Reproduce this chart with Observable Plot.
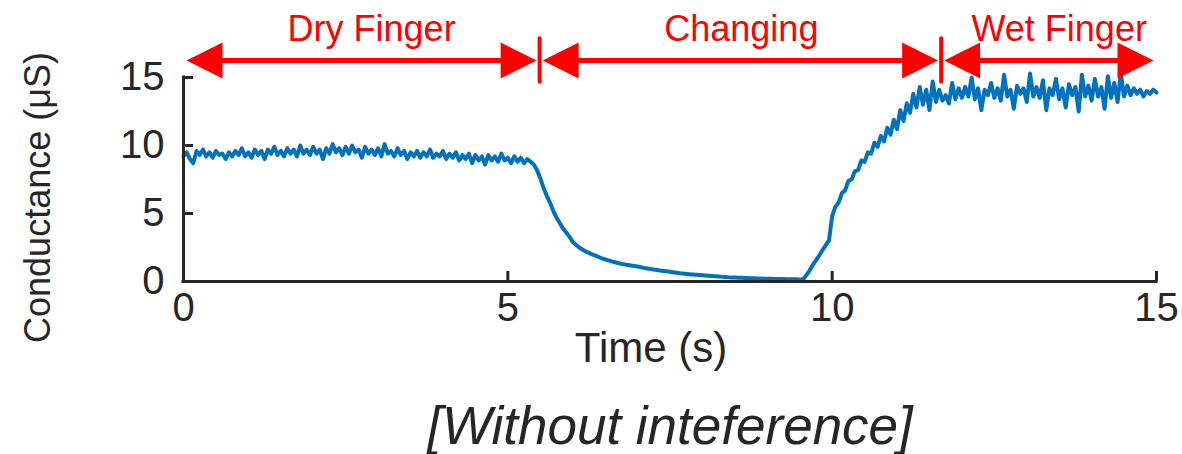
<!DOCTYPE html>
<html>
<head>
<meta charset="utf-8">
<script src="https://cdn.jsdelivr.net/npm/d3@7"></script>
<script src="https://cdn.jsdelivr.net/npm/@observablehq/plot@0.6"></script>
<style>
  html, body { margin: 0; padding: 0; background: #fff; }
</style>
</head>
<body>
<div id="chart"></div>
<script>
// ---------------- data ----------------
const sampleStep = 0.05; // seconds between samples

// 0.00 s .. 5.40 s
const dryValues = [
  9.2, 9.5, 9.0, 8.7, 9.6, 9.3, 9.7, 9.2, 9.5, 9.1, 9.6, 9.3, 9.4, 9.0, 9.5, 9.2, 9.6, 9.3, 9.8, 9.2,
  9.5, 9.1, 9.7, 9.3, 9.6, 9.0, 9.7, 9.4, 9.9, 9.3, 9.6, 9.2, 9.8, 9.4, 9.7, 9.2, 10.0, 9.4, 9.7, 9.3,
  9.9, 9.4, 9.7, 9.0, 9.8, 9.4, 10.1, 9.5, 9.8, 9.3, 9.9, 9.4, 10.0, 9.5, 9.7, 9.1, 9.9, 9.4, 9.7, 9.3,
  9.8, 9.2, 10.1, 9.4, 9.6, 9.2, 9.8, 9.3, 9.6, 9.0, 9.5, 9.2, 9.6, 9.1, 9.5, 9.2, 9.7, 9.1, 9.4, 9.2,
  9.6, 9.0, 9.4, 9.1, 9.5, 8.9, 9.3, 9.0, 9.4, 8.7, 9.3, 8.9, 9.2, 8.6, 9.3, 8.9, 9.2, 8.8, 9.4, 8.9,
  9.1, 8.7, 9.2, 8.8, 9.1, 8.7, 9.0, 8.8, 8.6
];

// 5.45 s .. 9.95 s
const changingValues = [
  8.2, 7.6, 6.9, 6.3, 5.8, 5.2, 4.7, 4.3, 3.9, 3.6, 3.3,
  2.9, 2.7, 2.5, 2.35, 2.2, 2.1, 2.0, 1.9, 1.8, 1.7, 1.62, 1.55, 1.48, 1.42, 1.36, 1.3, 1.26, 1.22, 1.18, 1.14,
  1.1, 1.05, 1.0, 0.96, 0.92, 0.88, 0.85, 0.81, 0.78, 0.75, 0.72, 0.68, 0.64, 0.6, 0.58, 0.56, 0.54, 0.52, 0.5, 0.48,
  0.46, 0.44, 0.42, 0.4, 0.38, 0.36, 0.34, 0.33, 0.31, 0.3, 0.29, 0.28, 0.27, 0.26, 0.25, 0.24, 0.23, 0.22, 0.22, 0.21,
  0.2, 0.2, 0.19, 0.19, 0.18, 0.18, 0.17, 0.17, 0.16, 0.16, 0.15, 0.15, 0.45, 0.8, 1.2, 1.55, 1.9, 2.3, 2.65, 3.0
];

// 10.00 s .. 15.00 s
const wetValues = [
  4.8, 5.5, 5.8, 6.5, 6.7, 7.4, 7.5, 8.1, 8.2, 8.9, 8.8, 9.5, 9.4, 10.2, 9.9, 10.7, 10.3, 11.3, 10.8, 11.9,
  11.2, 12.6, 11.8, 13.1, 12.4, 13.8, 12.8, 14.3, 13.0, 14.1, 12.6, 14.7, 13.2, 14.1, 13.3, 13.7, 13.1, 14.6, 13.4, 14.2,
  13.5, 14.3, 13.6, 15.0, 13.4, 14.2, 12.6, 14.1, 13.7, 14.6, 13.5, 14.2, 13.3, 15.2, 13.6, 14.1, 12.7, 14.4, 13.8, 14.2,
  13.2, 15.3, 13.6, 14.3, 13.5, 14.8, 12.6, 14.2, 13.7, 14.9, 13.4, 14.2, 12.8, 14.5, 13.7, 14.3, 12.5, 15.2, 13.6, 14.4,
  13.3, 14.9, 13.6, 14.3, 12.7, 15.1, 13.5, 14.6, 13.2, 15.3, 13.6, 14.4, 13.7, 14.2, 13.8, 14.1, 13.6, 14.0, 13.8, 14.1,
  13.9
];

const xTicks = [0, 5, 10, 15];
const yTicks = [0, 5, 10, 15];
const phaseNames = ["Dry Finger", "Changing", "Wet Finger"];
const phaseBounds = [0, 5.49, 11.68, 15];
const phaseLabelX = [2.9, 8.6, 13.5];
const arrowLevel = 16.25;
const xLabel = "Time (s)";
const yLabel = "Conductance (μS)";
const caption = "[Without inteference]";

// ---------------- build tables ----------------
const allValues = [...dryValues, ...changingValues, ...wetValues];
const series = allValues.map((v, i) => ({t: +(i * sampleStep).toFixed(2), v}));
const phases = phaseNames.map((name, i) => ({
  name, start: phaseBounds[i], end: phaseBounds[i + 1], labelX: phaseLabelX[i]
}));
const separators = phaseBounds.slice(1, -1);

// ---------------- layout / style ----------------
const W = 1182, H = 454;
const mL = 183, mR = 26, mT = 77, mB = 173;
const innerW = W - mL - mR, innerH = H - mT - mB;
const ink = "#262626", red = "#FF0000", blue = "#0072BD";
const font = "'Liberation Sans', Arial, Helvetica, sans-serif";

const headL = 36, headW = 18;
const leftHead = {draw(c) { c.moveTo(0, 0); c.lineTo(headL, -headW); c.lineTo(headL, headW); c.closePath(); }};
const rightHead = {draw(c) { c.moveTo(0, 0); c.lineTo(-headL, -headW); c.lineTo(-headL, headW); c.closePath(); }};

const chart = Plot.plot({
  width: W, height: H,
  marginLeft: mL, marginRight: mR, marginTop: mT, marginBottom: mB,
  x: {domain: [0, 15]},
  y: {domain: [0, 15]},
  style: {fontFamily: font, color: ink, background: "white", overflow: "visible"},
  marks: [
    Plot.axisX({ticks: xTicks, tickSize: 0, tickPadding: 11, fontSize: 40, label: null}),
    Plot.axisY({ticks: yTicks, tickSize: 0, tickPadding: 19, fontSize: 40, label: null}),
    Plot.line(series, {x: "t", y: "v", stroke: blue, strokeWidth: 4, strokeLinejoin: "round"}),
    Plot.tickX(xTicks, {x: d => d, insetTop: innerH - 10, stroke: ink, strokeWidth: 3}),
    Plot.tickY(yTicks, {y: d => d, insetRight: innerW - 10, stroke: ink, strokeWidth: 3}),
    Plot.ruleX([0], {y1: 0, y2: 15, stroke: ink, strokeWidth: 3, strokeLinecap: "square"}),
    Plot.ruleY([0], {x1: 0, x2: 15, stroke: ink, strokeWidth: 3, strokeLinecap: "square"}),
    Plot.ruleY(phases, {y: arrowLevel, x1: "start", x2: "end", insetLeft: 20, insetRight: 20, stroke: red, strokeWidth: 5}),
    Plot.dot(phases, {x: "start", y: arrowLevel, dx: 3, symbol: leftHead, fill: red, stroke: "none", r: 10}),
    Plot.dot(phases, {x: "end", y: arrowLevel, dx: -3, symbol: rightHead, fill: red, stroke: "none", r: 10}),
    Plot.ruleX(separators, {x: d => d, y1: arrowLevel - 1.6, y2: arrowLevel + 1.6, stroke: red, strokeWidth: 4, strokeLinecap: "round"}),
    Plot.text(phases, {x: "labelX", y: arrowLevel, text: "name", dy: -31, fill: red, fontSize: 36, textAnchor: "middle", lineAnchor: "middle"}),
    Plot.text([xLabel], {frameAnchor: "bottom", dx: -19, dy: 67, fontSize: 42, fill: ink, textAnchor: "middle", lineAnchor: "middle"}),
    Plot.text([yLabel], {frameAnchor: "left", rotate: -90, dx: -145, dy: 18, fontSize: 36, fill: ink, textAnchor: "middle", lineAnchor: "middle"}),
    Plot.text([caption], {frameAnchor: "bottom", dy: 146, fontSize: 53, fontStyle: "italic", fill: ink, textAnchor: "middle", lineAnchor: "middle"})
  ]
});
document.getElementById("chart").appendChild(chart);
</script>
</body>
</html>
